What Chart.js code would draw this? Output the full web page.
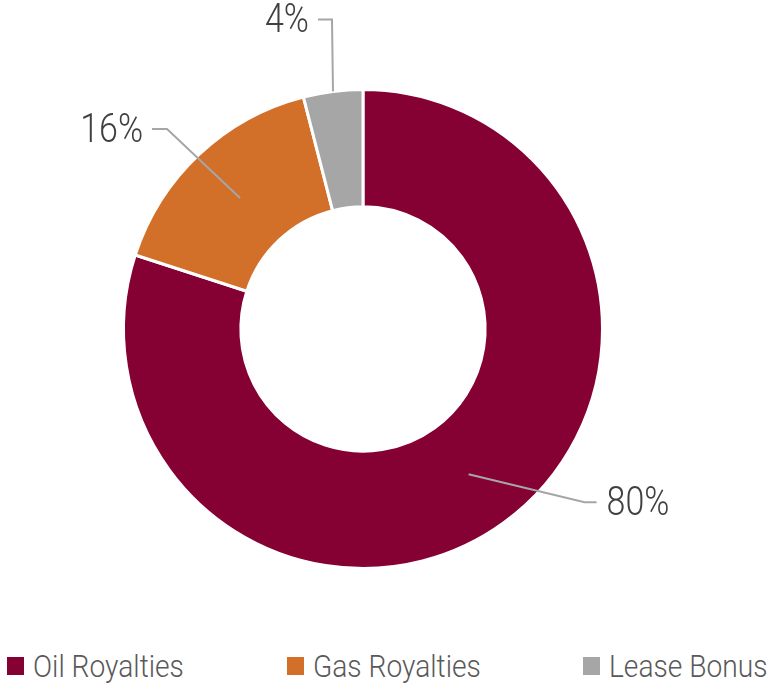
<!DOCTYPE html>
<html>
<head>
<meta charset="utf-8">
<script src="https://cdn.jsdelivr.net/npm/chart.js@4"></script>
<style>
  html, body { margin: 0; padding: 0; background: #fff; }
  #wrap { position: relative; width: 773px; height: 685px; }
  #chart { display: block; }
  #legend {
    position: absolute; left: 0; top: 646px; width: 773px; height: 40px;
    font-family: Roboto, sans-serif; font-weight: 300; font-size: 32px; color: #595959;
  }
  .item { position: absolute; top: 0; display: flex; align-items: center; height: 40px; white-space: nowrap; }
  .box { width: 17px; height: 18px; margin-right: 9px; flex: none; }
  .txt { display: inline-block; transform: scaleX(0.88); transform-origin: left center; }
</style>
</head>
<body>
<div id="wrap">
  <canvas id="chart" width="773" height="640"></canvas>
  <div id="legend"></div>
</div>
<script>
const categories = ['Oil Royalties', 'Gas Royalties', 'Lease Bonus']
const shares = [80, 16, 4]
const valueLabels = ['80%', '16%', '4%']
const colors = ['#850033', '#D2702A', '#A6A6A6']

// leader line layout per slice: anchor radius fraction, elbow offset, tail length
const leaders = [
  { r: 0.75, dx: 116, dy: 28, tail: 12 },
  { r: 0.75, dx: -73, dy: -69, tail: -15 },
  { r: 1.0, dx: -1, dy: -72, tail: -14 },
]

const leaderPlugin = {
  id: 'leaders',
  afterDatasetsDraw(chart) {
    const ctx = chart.ctx
    const arcs = chart.getDatasetMeta(0).data
    arcs.forEach((arc, i) => {
      const p = leaders[i]
      const mid = (arc.startAngle + arc.endAngle) / 2
      const r = arc.outerRadius * p.r
      const ax = arc.x + Math.cos(mid) * r
      const ay = arc.y + Math.sin(mid) * r
      const ex = ax + p.dx
      const ey = ay + p.dy
      const tx = ex + p.tail
      ctx.save()
      ctx.strokeStyle = '#A6A6A6'
      ctx.lineWidth = 2
      ctx.beginPath()
      ctx.moveTo(ax, ay)
      ctx.lineTo(ex, ey)
      ctx.lineTo(tx, ey)
      ctx.stroke()
      // condensed look: squeeze the text horizontally
      ctx.translate(tx + (p.tail > 0 ? 10 : -9), ey + 3)
      ctx.scale(0.85, 1)
      ctx.fillStyle = '#404040'
      ctx.font = '300 40px Roboto'
      ctx.textBaseline = 'middle'
      ctx.textAlign = p.tail > 0 ? 'left' : 'right'
      ctx.fillText(valueLabels[i], 0, 0)
      ctx.restore()
    })
  },
}

new Chart(document.getElementById('chart'), {
  type: 'doughnut',
  data: {
    labels: categories,
    datasets: [
      {
        data: shares,
        backgroundColor: colors,
        borderColor: '#ffffff',
        borderWidth: 3,
      },
    ],
  },
  options: {
    responsive: false,
    animation: false,
    cutout: '51%',
    layout: { padding: { top: 88, bottom: 70, left: 0, right: 47 } },
    plugins: {
      legend: { display: false },
      tooltip: { enabled: false },
    },
  },
  plugins: [leaderPlugin],
})

const legendX = [7, 287, 583]
const legend = document.getElementById('legend')
categories.forEach((name, i) => {
  const item = document.createElement('div')
  item.className = 'item'
  item.style.left = legendX[i] + 'px'
  item.innerHTML = `<span class="box" style="background:${colors[i]}"></span><span class="txt">${name}</span>`
  legend.appendChild(item)
})
</script>
</body>
</html>
